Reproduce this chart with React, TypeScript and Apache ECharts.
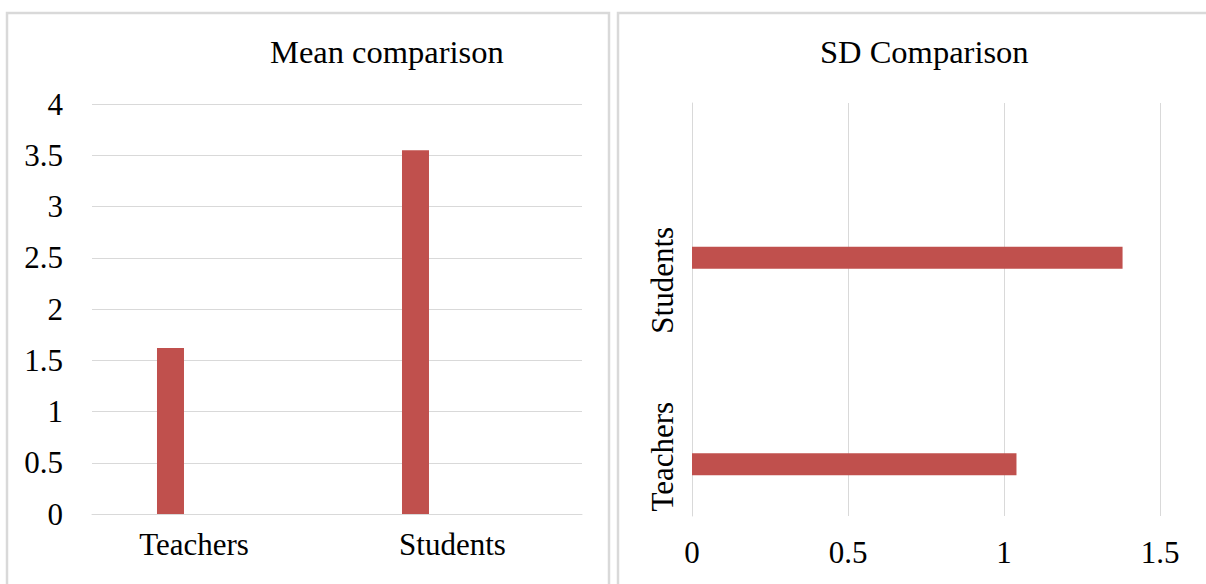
import React, { useEffect, useRef } from "react";
import * as echarts from "echarts";

const categories = ["Teachers", "Students"];
const meanValues = [1.62, 3.55];
const sdValues = [1.04, 1.38];
const spacerValues = [null, null];
const meanAxis = { min: 0, max: 4, interval: 0.5 };
const sdAxis = { min: 0, max: 1.5, interval: 0.5 };
const meanTitle = "Mean comparison";
const sdTitle = "SD Comparison";

const FONT = '"Liberation Serif", "Times New Roman", serif';
const BAR = "#c0504d";
const GRID = "#d9d9d9";
const TXT = "#000000";

export default function App() {
  const ref = useRef<HTMLDivElement>(null);
  useEffect(() => {
    if (!ref.current) return;
    const chart = echarts.init(ref.current, null, { renderer: "svg" });
    const labelStyle = { fontFamily: FONT, fontSize: 31, color: TXT };
    chart.setOption({
      animation: false,
      backgroundColor: "#ffffff",
      title: [
        { text: meanTitle, left: 265, top: 30, textStyle: { fontFamily: FONT, fontSize: 32.5, fontWeight: "normal", color: TXT } },
        { text: sdTitle, left: 815, top: 30, textStyle: { fontFamily: FONT, fontSize: 32.5, fontWeight: "normal", color: TXT } },
      ],
      graphic: [
        { type: "rect", silent: true, shape: { x: 7, y: 13, width: 602, height: 620 }, style: { fill: "none", stroke: GRID, lineWidth: 2.5 } },
        { type: "rect", silent: true, shape: { x: 618, y: 13, width: 700, height: 620 }, style: { fill: "none", stroke: GRID, lineWidth: 2.5 } },
      ],
      grid: [
        { left: 92, right: 1206 - 582, top: 104, bottom: 584 - 514, containLabel: false },
        { left: 692, right: 1206 - 1160, top: 103, bottom: 584 - 516, containLabel: false },
      ],
      xAxis: [
        {
          type: "category",
          gridIndex: 0,
          data: categories,
          axisLine: { show: true, lineStyle: { color: GRID, width: 1 } },
          axisTick: { show: false },
          axisLabel: {
            interval: 0,
            margin: 15,
            formatter: (v: string) => (v === categories[0] ? `{t|${v}}` : `{s|${v}}`),
            rich: {
              t: { ...labelStyle, padding: [0, 41, 0, 0] },
              s: { ...labelStyle, padding: [0, 14, 0, 0] },
            },
          },
        },
        {
          type: "value",
          gridIndex: 1,
          min: sdAxis.min,
          max: sdAxis.max,
          interval: sdAxis.interval,
          axisLine: { show: false },
          axisTick: { show: false },
          splitLine: { show: true, lineStyle: { color: GRID, width: 1 } },
          axisLabel: { ...labelStyle, margin: 21 },
        },
      ],
      yAxis: [
        {
          type: "value",
          gridIndex: 0,
          min: meanAxis.min,
          max: meanAxis.max,
          interval: meanAxis.interval,
          axisLine: { show: false },
          axisTick: { show: false },
          splitLine: { show: true, lineStyle: { color: GRID, width: 1 } },
          axisLabel: { ...labelStyle, margin: 29 },
        },
        {
          type: "category",
          gridIndex: 1,
          data: categories,
          axisLine: { show: true, lineStyle: { color: GRID, width: 1 } },
          axisTick: { show: false },
          axisLabel: {
            interval: 0,
            rotate: 90,
            margin: 14,
            formatter: (v: string) => (v === categories[0] ? `{t|${v}}` : `{s|${v}}`),
            rich: {
              t: { ...labelStyle, padding: [0, 88, 0, 0] },
              s: { ...labelStyle, padding: [0, 148, 0, 0] },
            },
          },
        },
      ],
      series: [
        {
          name: "Mean",
          type: "bar",
          xAxisIndex: 0,
          yAxisIndex: 0,
          data: meanValues,
          barWidth: 27,
          barGap: "226%",
          itemStyle: { color: BAR },
        },
        {
          name: "Mean spacer",
          type: "bar",
          xAxisIndex: 0,
          yAxisIndex: 0,
          data: spacerValues,
          barWidth: 27,
          barGap: "226%",
          itemStyle: { color: BAR },
        },
        {
          name: "SD spacer",
          type: "bar",
          xAxisIndex: 1,
          yAxisIndex: 1,
          data: spacerValues,
          barWidth: 22,
          barGap: "368%",
          itemStyle: { color: BAR },
        },
        {
          name: "SD",
          type: "bar",
          xAxisIndex: 1,
          yAxisIndex: 1,
          data: sdValues,
          barWidth: 22,
          barGap: "368%",
          itemStyle: { color: BAR },
        },
      ],
    });
    return () => chart.dispose();
  }, []);
  return (
    <div
      ref={ref}
      style={{ position: "fixed", left: 0, top: 0, width: 1206, height: 584, background: "#fff" }}
    />
  );
}
